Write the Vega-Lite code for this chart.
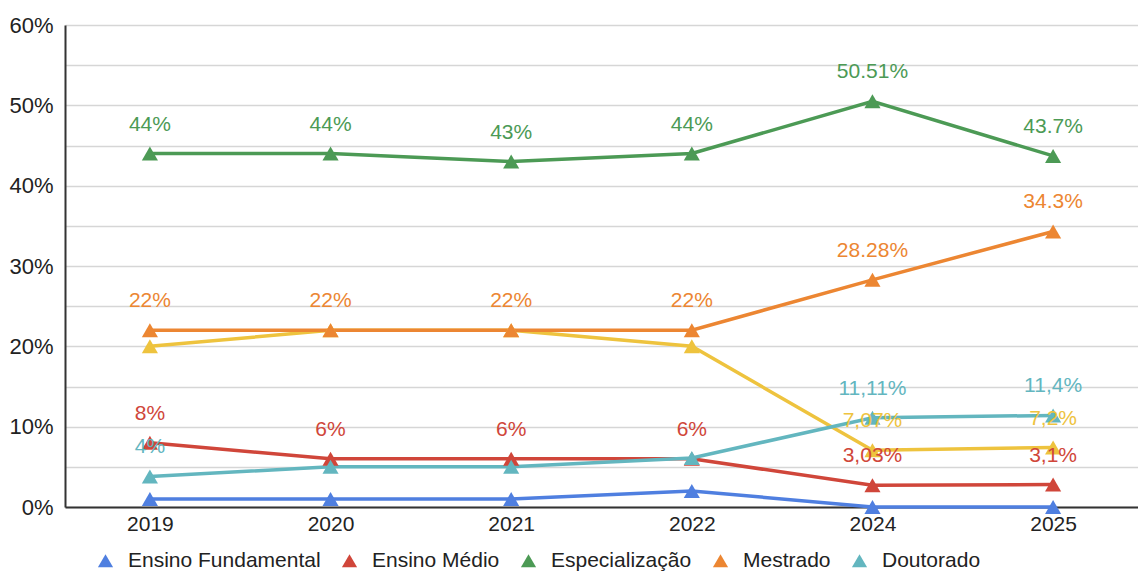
{
  "$schema": "https://vega.github.io/schema/vega-lite/v6.json",
  "width": 1073,
  "height": 482,
  "autosize": "none",
  "padding": {"left": 65, "top": 25, "right": 0, "bottom": 65},
  "background": "white",
  "data": {
    "values": [
      {"serie": "Graduação", "ano": "2019", "valor": 20, "rotulo": ""},
      {"serie": "Graduação", "ano": "2020", "valor": 22, "rotulo": ""},
      {"serie": "Graduação", "ano": "2021", "valor": 22, "rotulo": ""},
      {"serie": "Graduação", "ano": "2022", "valor": 20, "rotulo": ""},
      {"serie": "Graduação", "ano": "2024", "valor": 7.07, "rotulo": "7,07%"},
      {"serie": "Graduação", "ano": "2025", "valor": 7.4, "rotulo": "7,2%"},
      {"serie": "Ensino Fundamental", "ano": "2019", "valor": 1, "rotulo": ""},
      {"serie": "Ensino Fundamental", "ano": "2020", "valor": 1, "rotulo": ""},
      {"serie": "Ensino Fundamental", "ano": "2021", "valor": 1, "rotulo": ""},
      {"serie": "Ensino Fundamental", "ano": "2022", "valor": 2, "rotulo": ""},
      {"serie": "Ensino Fundamental", "ano": "2024", "valor": 0, "rotulo": ""},
      {"serie": "Ensino Fundamental", "ano": "2025", "valor": 0, "rotulo": ""},
      {"serie": "Ensino Médio", "ano": "2019", "valor": 8, "rotulo": "8%"},
      {"serie": "Ensino Médio", "ano": "2020", "valor": 6, "rotulo": "6%"},
      {"serie": "Ensino Médio", "ano": "2021", "valor": 6, "rotulo": "6%"},
      {"serie": "Ensino Médio", "ano": "2022", "valor": 6, "rotulo": "6%"},
      {"serie": "Ensino Médio", "ano": "2024", "valor": 2.7, "rotulo": "3,03%"},
      {"serie": "Ensino Médio", "ano": "2025", "valor": 2.8, "rotulo": "3,1%"},
      {"serie": "Especialização", "ano": "2019", "valor": 44, "rotulo": "44%"},
      {"serie": "Especialização", "ano": "2020", "valor": 44, "rotulo": "44%"},
      {"serie": "Especialização", "ano": "2021", "valor": 43, "rotulo": "43%"},
      {"serie": "Especialização", "ano": "2022", "valor": 44, "rotulo": "44%"},
      {"serie": "Especialização", "ano": "2024", "valor": 50.51, "rotulo": "50.51%"},
      {"serie": "Especialização", "ano": "2025", "valor": 43.7, "rotulo": "43.7%"},
      {"serie": "Mestrado", "ano": "2019", "valor": 22, "rotulo": "22%"},
      {"serie": "Mestrado", "ano": "2020", "valor": 22, "rotulo": "22%"},
      {"serie": "Mestrado", "ano": "2021", "valor": 22, "rotulo": "22%"},
      {"serie": "Mestrado", "ano": "2022", "valor": 22, "rotulo": "22%"},
      {"serie": "Mestrado", "ano": "2024", "valor": 28.28, "rotulo": "28.28%"},
      {"serie": "Mestrado", "ano": "2025", "valor": 34.3, "rotulo": "34.3%"},
      {"serie": "Doutorado", "ano": "2019", "valor": 3.8, "rotulo": "4%"},
      {"serie": "Doutorado", "ano": "2020", "valor": 5, "rotulo": ""},
      {"serie": "Doutorado", "ano": "2021", "valor": 5, "rotulo": ""},
      {"serie": "Doutorado", "ano": "2022", "valor": 6.1, "rotulo": ""},
      {"serie": "Doutorado", "ano": "2024", "valor": 11.11, "rotulo": "11,11%"},
      {"serie": "Doutorado", "ano": "2025", "valor": 11.4, "rotulo": "11,4%"}
    ]
  },
  "encoding": {
    "x": {
      "field": "ano",
      "type": "ordinal",
      "sort": null,
      "scale": {"type": "point", "padding": 0.47},
      "axis": {
        "title": null,
        "labelAngle": 0,
        "labelFontSize": 21,
        "labelColor": "#222",
        "labelPadding": 6,
        "ticks": false,
        "domainColor": "#333",
        "domainWidth": 2,
        "gridColor": "#cfcfcf",
        "gridWidth": 1.5
      }
    },
    "y": {
      "field": "valor",
      "type": "quantitative",
      "scale": {"domain": [0, 60], "nice": false},
      "axis": {
        "title": null,
        "values": [0, 5, 10, 15, 20, 25, 30, 35, 40, 45, 50, 55, 60],
        "labelExpr": "datum.value % 10 == 0 ? datum.value + '%' : ''",
        "labelFontSize": 22,
        "labelColor": "#222",
        "labelPadding": 12,
        "ticks": false,
        "domainColor": "#333",
        "domainWidth": 2,
        "gridColor": "#d6d6d6",
        "gridWidth": 1.5
      }
    },
    "color": {
      "field": "serie",
      "type": "nominal",
      "scale": {
        "domain": ["Ensino Fundamental", "Ensino Médio", "Especialização", "Mestrado", "Doutorado", "Graduação"],
        "range": ["#4f7fe0", "#d0463a", "#4c9a55", "#ec8632", "#63b6bf", "#eec33e"]
      },
      "legend": {
        "values": ["Ensino Fundamental", "Ensino Médio", "Especialização", "Mestrado", "Doutorado"],
        "title": null,
        "orient": "none",
        "legendX": 30,
        "legendY": 525,
        "direction": "horizontal",
        "symbolType": "triangle-up",
        "symbolSize": 230,
        "symbolStrokeWidth": 0,
        "labelFontSize": 21,
        "labelColor": "#222",
        "labelLimit": 300,
        "labelOffset": 12,
        "columnPadding": 18,
        "symbolOffset": 0
      }
    }
  },
  "layer": [
    {
      "mark": {"type": "line", "strokeWidth": 3.5}
    },
    {
      "mark": {"type": "point", "shape": "triangle-up", "filled": true, "size": 260, "opacity": 1}
    },
    {
      "transform": [{"filter": "datum.rotulo != ''"}],
      "mark": {"type": "text", "dy": -29, "fontSize": 21, "baseline": "middle"},
      "encoding": {
        "text": {"field": "rotulo"}
      }
    }
  ],
  "config": {
    "font": "Liberation Sans",
    "view": {"stroke": "transparent"}
  }
}
